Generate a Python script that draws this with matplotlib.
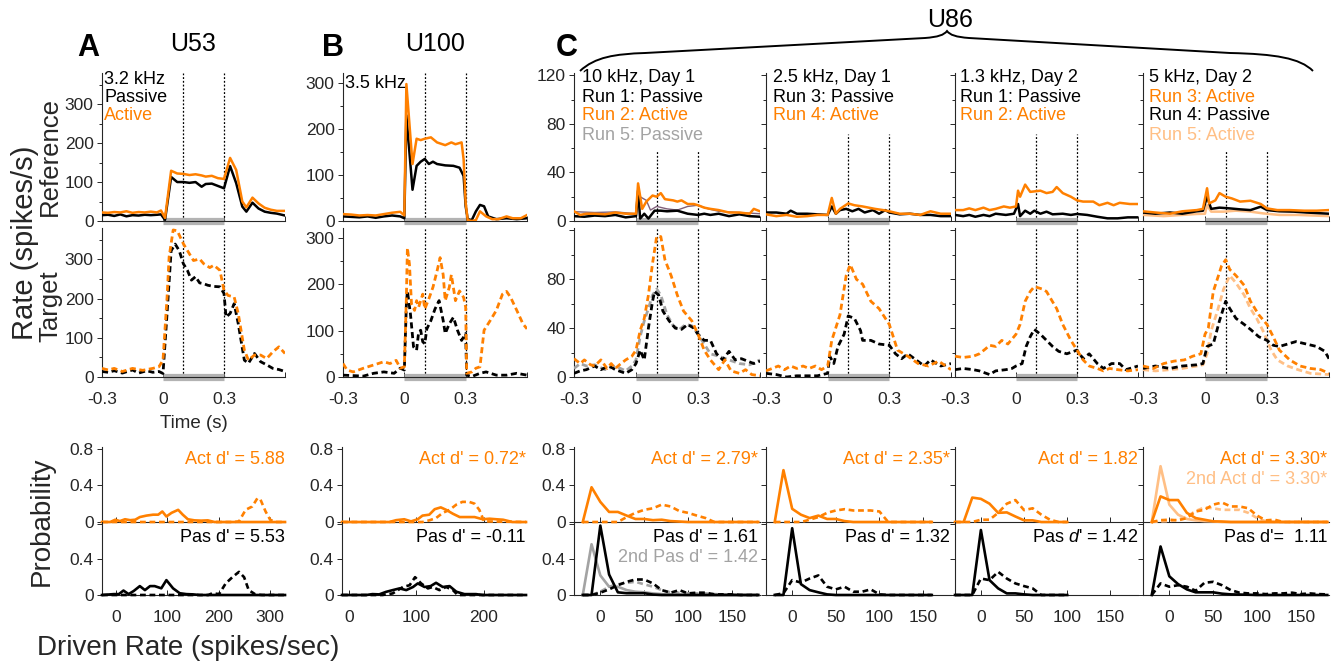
import numpy as np
import matplotlib
matplotlib.use("Agg")
import matplotlib.pyplot as plt
from matplotlib.path import Path
from matplotlib.patches import PathPatch
from matplotlib.ticker import MultipleLocator

plt.rcParams["font.family"] = ["Liberation Sans", "DejaVu Sans"]
plt.rcParams["mathtext.fontset"] = "custom"
plt.rcParams["mathtext.rm"] = "Liberation Sans"
plt.rcParams["mathtext.it"] = "Liberation Sans:italic"

ORANGE = "#ff8000"
LIGHT = "#ffbf85"
GRAY = "#a3a3a3"
MAUVE = "#80607a"
DARK = "#262626"

# ---------------- PSTH data (time in s, rate in spikes/s) ----------------
a_ref_act_t = [-0.3, -0.27, -0.24, -0.21, -0.18, -0.15, -0.12, -0.09, -0.06, -0.03, -0.01, 0.01, 0.04, 0.07, 0.1, 0.13,
               0.16, 0.19, 0.21, 0.24, 0.27, 0.3, 0.33, 0.36, 0.39, 0.41, 0.44, 0.47, 0.5, 0.53, 0.56, 0.6]
a_ref_act = [22, 21, 23, 22, 25, 21, 23, 22, 24, 22, 27, 8, 129, 122, 121, 118, 120, 117, 114, 116, 110, 108, 162,
             131, 50, 35, 60, 45, 34, 29, 26, 26]
a_ref_pas_t = [-0.3, -0.27, -0.24, -0.21, -0.18, -0.15, -0.12, -0.09, -0.06, -0.03, -0.01, 0.01, 0.04, 0.07, 0.1, 0.13,
               0.16, 0.19, 0.21, 0.24, 0.27, 0.3, 0.33, 0.36, 0.39, 0.41, 0.44, 0.47, 0.5, 0.53, 0.56, 0.6]
a_ref_pas = [15, 16, 13, 17, 12, 15, 14, 16, 15, 16, 17, 3, 113, 100, 100, 98, 100, 88, 95, 96, 90, 84, 141, 97, 37,
             24, 47, 32, 24, 21, 19, 14]
a_tar_act_t = [-0.3, -0.27, -0.24, -0.2, -0.15, -0.1, -0.05, -0.02, 0, 0.02, 0.03, 0.05, 0.07, 0.1, 0.13, 0.15, 0.18,
               0.2, 0.23, 0.25, 0.28, 0.3, 0.32, 0.35, 0.37, 0.4, 0.42, 0.45, 0.48, 0.51, 0.54, 0.57, 0.6]
a_tar_act = [22, 18, 22, 14, 22, 17, 22, 26, 43, 204, 306, 375, 373, 340, 314, 297, 301, 289, 279, 285, 272, 221, 208,
             204, 162, 69, 43, 56, 56, 47, 64, 77, 60]
a_tar_pas_t = [-0.3, -0.27, -0.24, -0.2, -0.15, -0.12, -0.08, -0.05, -0.02, 0, 0.02, 0.04, 0.06, 0.08, 0.1, 0.12, 0.14,
               0.16, 0.18, 0.2, 0.22, 0.25, 0.28, 0.3, 0.31, 0.33, 0.35, 0.37, 0.4, 0.42, 0.45, 0.48, 0.51, 0.54,
               0.57, 0.6]
a_tar_pas = [14, 12, 16, 10, 18, 10, 16, 12, 14, 9, 162, 322, 339, 322, 289, 272, 247, 256, 240, 238, 234, 231, 230,
             213, 153, 162, 187, 136, 43, 35, 60, 39, 31, 22, 19, 14]

b_ref_act_t = [-0.3, -0.26, -0.22, -0.18, -0.14, -0.1, -0.06, -0.02, 0, 0.01, 0.04, 0.06, 0.08, 0.1, 0.13, 0.16, 0.2,
               0.23, 0.25, 0.28, 0.29, 0.3, 0.31, 0.33, 0.35, 0.37, 0.4, 0.43, 0.46, 0.5, 0.53, 0.57, 0.6]
b_ref_act = [15, 14, 12, 13, 12, 15, 18, 20, 12, 298, 124, 179, 176, 179, 182, 171, 165, 171, 167, 171, 134, 39, 2, 0,
             2, 21, 10, 4, 4, 10, 6, 6, 13]
b_ref_pas_t = [-0.3, -0.26, -0.22, -0.18, -0.14, -0.1, -0.06, -0.02, 0, 0.01, 0.04, 0.06, 0.08, 0.1, 0.12, 0.14, 0.16,
               0.2, 0.24, 0.27, 0.29, 0.3, 0.31, 0.33, 0.35, 0.37, 0.39, 0.41, 0.45, 0.5, 0.55, 0.6]
b_ref_pas = [10, 9, 8, 10, 7, 10, 12, 10, 6, 230, 68, 120, 129, 135, 124, 129, 124, 121, 120, 116, 98, 32, 4, 2, 21,
             35, 32, 10, 4, 6, 4, 6]
b_tar_act_t = [-0.3, -0.28, -0.25, -0.2, -0.15, -0.1, -0.07, -0.04, -0.02, 0, 0.01, 0.015, 0.025, 0.035, 0.05, 0.06,
               0.07, 0.09, 0.1, 0.12, 0.14, 0.16, 0.175, 0.19, 0.2, 0.22, 0.23, 0.25, 0.27, 0.29, 0.3, 0.305, 0.33,
               0.35, 0.37, 0.39, 0.42, 0.45, 0.48, 0.5, 0.52, 0.55, 0.58, 0.6]
b_tar_act = [29, 15, 11, 19, 26, 33, 29, 36, 19, 22, 172, 279, 244, 158, 144, 165, 151, 179, 147, 169, 194, 229, 258,
             221, 165, 194, 221, 165, 186, 172, 151, 8, 11, 19, 22, 101, 122, 144, 179, 185, 172, 144, 115, 104]
b_tar_pas_t = [-0.3, -0.2, -0.15, -0.1, -0.05, -0.02, 0, 0.01, 0.015, 0.03, 0.045, 0.06, 0.07, 0.08, 0.09, 0.1, 0.11,
               0.13, 0.15, 0.17, 0.19, 0.2, 0.22, 0.24, 0.26, 0.28, 0.3, 0.305, 0.33, 0.37, 0.4, 0.45, 0.5, 0.55, 0.6]
b_tar_pas = [4, 2, 8, 11, 8, 19, 15, 158, 186, 136, 65, 58, 97, 101, 76, 72, 104, 122, 147, 165, 122, 94, 115, 129, 101,
             79, 94, 4, 1, 8, 11, 4, 4, 8, 4]

c1_ref_act_t = [-0.3, -0.27, -0.24, -0.2, -0.15, -0.1, -0.05, 0, 0.01, 0.03, 0.05, 0.08, 0.1, 0.12, 0.14, 0.18, 0.2,
                0.22, 0.25, 0.28, 0.3, 0.33, 0.36, 0.4, 0.45, 0.5, 0.55, 0.57, 0.6]
c1_ref_act = [8, 5, 6, 6, 5.5, 7, 6, 6, 31, 10, 16, 21, 20, 23, 18, 17, 16, 17, 14, 14, 13, 11, 10, 9, 7, 7, 6, 10, 8]
c1_ref_pas_t = [-0.3, -0.25, -0.2, -0.15, -0.1, -0.05, 0, 0.01, 0.02, 0.04, 0.06, 0.09, 0.12, 0.15, 0.2, 0.25, 0.3,
                0.33, 0.36, 0.4, 0.45, 0.5, 0.55, 0.6]
c1_ref_pas = [4, 3.5, 4.5, 4, 5, 3, 4, 25, 2, 6, 2, 8.5, 8.5, 8, 8.5, 6, 5, 6, 5, 6, 4, 5.5, 4, 3.5]
c1_ref_pas2_t = [-0.3, -0.2, -0.1, 0, 0.02, 0.05, 0.07, 0.1, 0.15, 0.2, 0.25, 0.3, 0.35, 0.4, 0.5, 0.6]
c1_ref_pas2 = [7.7, 7, 7.5, 6, 20, 17, 9, 12, 10, 9, 12, 13, 10, 8, 7, 6]
c1_tar_act_t = [-0.3, -0.27, -0.25, -0.22, -0.2, -0.17, -0.14, -0.12, -0.1, -0.08, -0.05, -0.02, 0, 0.02, 0.04, 0.06,
                0.08, 0.1, 0.12, 0.14, 0.17, 0.2, 0.23, 0.27, 0.3, 0.33, 0.36, 0.4, 0.43, 0.46, 0.5, 0.53, 0.56, 0.6]
c1_tar_act = [15, 11, 14, 10, 9, 14, 7, 11, 7, 10, 14, 17, 22, 38, 48, 67, 93, 115, 115, 96, 83, 67, 54, 46, 35, 22, 14,
              6, 14, 5, 3, 6, 2, 1]
c1_tar_pas_t = [-0.3, -0.27, -0.24, -0.2, -0.17, -0.13, -0.1, -0.05, -0.02, 0, 0.02, 0.04, 0.06, 0.08, 0.09, 0.11,
                0.13, 0.16, 0.19, 0.22, 0.25, 0.28, 0.3, 0.33, 0.36, 0.39, 0.42, 0.45, 0.48, 0.51, 0.54, 0.57, 0.6]
c1_tar_pas = [3, 5, 6, 9, 6, 9, 6, 3, 6, 11, 22, 14, 40, 62, 70, 67, 54, 46, 40, 39, 43, 40, 35, 30, 30, 19, 14, 21, 14,
              15, 13, 11, 13]
c1_tar_pas2_t = [-0.3, -0.27, -0.24, -0.2, -0.15, -0.1, -0.05, -0.02, 0, 0.02, 0.04, 0.06, 0.08, 0.1, 0.12, 0.15, 0.18,
                 0.21, 0.24, 0.27, 0.3, 0.33, 0.36, 0.4, 0.45, 0.5, 0.55, 0.6]
c1_tar_pas2 = [7, 11, 9, 10, 6, 9, 5, 9, 14, 33, 46, 56, 67, 72, 67, 51, 42, 39, 43, 42, 35, 27, 19, 17, 14, 11, 10, 14]

c2_ref_act_t = [-0.3, -0.25, -0.2, -0.15, -0.1, -0.05, 0, 0.02, 0.04, 0.06, 0.1, 0.13, 0.17, 0.2, 0.23, 0.27, 0.3,
                0.35, 0.4, 0.45, 0.5, 0.55, 0.6]
c2_ref_act = [5.5, 4, 5, 3.5, 4, 5, 5, 19, 6, 10, 14.5, 13, 12, 11, 10, 9, 8, 6, 6, 5, 8, 6, 6]
c2_ref_pas_t = [-0.3, -0.25, -0.2, -0.18, -0.15, -0.1, -0.05, 0, 0.02, 0.04, 0.06, 0.09, 0.12, 0.15, 0.18, 0.22, 0.25,
                0.28, 0.3, 0.35, 0.4, 0.45, 0.5, 0.55, 0.6]
c2_ref_pas = [7, 7, 6, 8.5, 6, 6, 5.5, 5, 12, 6, 9, 10, 8, 10, 7, 9, 6, 9, 7, 5.5, 6, 5, 5, 4, 4]
c2_tar_act_t = [-0.3, -0.27, -0.24, -0.21, -0.18, -0.15, -0.12, -0.09, -0.06, -0.03, 0, 0.02, 0.06, 0.09, 0.11, 0.14,
                0.17, 0.21, 0.25, 0.3, 0.34, 0.39, 0.44, 0.49, 0.54, 0.6]
c2_tar_act = [5, 7, 9, 6, 9, 7, 9, 7, 9, 6, 9, 30, 51, 83, 92, 80, 76, 62, 56, 43, 22, 17, 11, 9, 13, 6]
c2_tar_pas_t = [-0.3, -0.25, -0.2, -0.15, -0.1, -0.05, 0, 0.01, 0.03, 0.05, 0.08, 0.1, 0.13, 0.16, 0.17, 0.21, 0.25,
                0.3, 0.33, 0.36, 0.39, 0.43, 0.47, 0.5, 0.55, 0.6]
c2_tar_pas = [3, 2, 0, 1, 1, 1, 3, 17, 11, 25, 35, 50, 48, 38, 30, 30, 27, 26, 19, 15, 19, 14, 9, 14, 9, 11]

c3_ref_act_t = [-0.3, -0.26, -0.23, -0.2, -0.16, -0.13, -0.1, -0.06, -0.03, 0, 0.01, 0.02, 0.045, 0.07, 0.12, 0.15,
                0.18, 0.2, 0.23, 0.27, 0.3, 0.33, 0.38, 0.41, 0.45, 0.48, 0.51, 0.56, 0.6]
c3_ref_act = [9, 9, 10.4, 9, 11, 9, 10, 12, 11, 12, 25, 20, 30, 24, 25, 23, 24, 28, 23, 20, 17, 16, 16, 13, 15, 13, 15,
              14, 14]
c3_ref_pas_t = [-0.3, -0.26, -0.23, -0.2, -0.16, -0.13, -0.1, -0.05, -0.01, 0.01, 0.02, 0.045, 0.07, 0.09, 0.12, 0.15,
                0.18, 0.23, 0.27, 0.3, 0.35, 0.4, 0.45, 0.5, 0.55, 0.6]
c3_ref_pas = [5, 4, 5, 3.5, 5, 4, 6, 5, 6, 14, 4, 8.5, 6, 8.5, 6, 7.7, 5.5, 6, 5, 5.8, 5, 3.5, 2.2, 2.2, 3, 3]
c3_tar_act_t = [-0.3, -0.26, -0.21, -0.18, -0.15, -0.13, -0.1, -0.07, -0.04, -0.01, 0, 0.02, 0.045, 0.07, 0.09, 0.13,
                0.15, 0.2, 0.23, 0.27, 0.3, 0.33, 0.36, 0.4, 0.43, 0.46, 0.5, 0.55, 0.6]
c3_tar_act = [17, 16, 17, 19, 23, 26, 25, 30, 27, 33, 35, 43, 62, 70, 74, 72, 70, 56, 43, 30, 22, 14, 9, 7, 5, 7, 6, 5,
              6]
c3_tar_pas_t = [-0.3, -0.26, -0.21, -0.18, -0.13, -0.1, -0.05, -0.02, 0, 0.03, 0.05, 0.07, 0.09, 0.12, 0.15, 0.18,
                0.21, 0.25, 0.3, 0.33, 0.36, 0.4, 0.43, 0.47, 0.51, 0.54, 0.6]
c3_tar_pas = [6, 7, 6, 5, 2, 5, 6, 7, 9, 11, 25, 33, 39, 35, 30, 25, 21, 19, 22, 15, 19, 11, 7, 11, 11, 6, 9]

c4_ref_act_t = [-0.3, -0.24, -0.17, -0.11, -0.04, -0.01, 0.01, 0.02, 0.05, 0.07, 0.1, 0.13, 0.17, 0.22, 0.27, 0.3,
                0.35, 0.41, 0.48, 0.54, 0.6]
c4_ref_act = [8, 7, 6, 8, 9, 10, 27, 14.5, 17, 23, 20, 18.6, 16, 16.7, 14, 10.4, 9, 9, 8.5, 8.5, 9]
c4_ref_pas_t = [-0.3, -0.24, -0.17, -0.11, -0.04, -0.01, 0.01, 0.03, 0.07, 0.12, 0.17, 0.22, 0.27, 0.3, 0.36, 0.43,
                0.49, 0.6]
c4_ref_pas = [7, 6, 7, 6, 8, 8.5, 20, 10, 11, 10.4, 9.6, 9, 11.8, 9, 8, 7.7, 7, 6]
c4_ref_act2_t = [-0.3, -0.2, -0.11, -0.04, 0, 0.01, 0.03, 0.09, 0.15, 0.22, 0.28, 0.36, 0.45, 0.6]
c4_ref_act2 = [5, 4, 5, 5.8, 6, 13, 7.7, 7.7, 8.5, 7.7, 6.3, 5, 5, 4]
c4_tar_act_t = [-0.3, -0.25, -0.2, -0.15, -0.1, -0.06, -0.02, 0, 0.016, 0.04, 0.065, 0.08, 0.1, 0.12, 0.15, 0.19, 0.22,
                0.26, 0.3, 0.33, 0.36, 0.41, 0.46, 0.51, 0.56, 0.6]
c4_tar_act = [9, 7, 11, 13, 14, 17, 19, 35, 40, 70, 83, 91, 96, 88, 83, 75, 62, 51, 43, 33, 22, 14, 9, 7, 6, 3]
c4_tar_pas_t = [-0.3, -0.24, -0.17, -0.11, -0.04, -0.01, 0.01, 0.04, 0.07, 0.1, 0.12, 0.15, 0.19, 0.22, 0.26, 0.3,
                0.33, 0.36, 0.4, 0.44, 0.49, 0.54, 0.58, 0.6]
c4_tar_pas = [7, 9, 7, 9, 10, 11, 25, 27, 46, 62, 56, 48, 43, 39, 33, 30, 26, 25, 27, 29, 27, 25, 21, 15]
c4_tar_act2_t = [-0.3, -0.24, -0.17, -0.11, -0.04, -0.01, 0.01, 0.03, 0.06, 0.09, 0.12, 0.15, 0.19, 0.22, 0.25, 0.28,
                 0.32, 0.35, 0.4, 0.45, 0.51, 0.6]
c4_tar_act2 = [6, 5, 6, 7, 9, 10, 19, 38, 54, 72, 83, 77, 67, 56, 48, 38, 22, 14, 9, 6, 3, 2]

# ---------------- driven-rate distributions ----------------
a_act_sol_x = [-28, -12, -2, 7, 17, 27, 37, 46, 59, 72, 82, 90, 98, 108, 121, 130, 140, 153, 166, 179, 192, 330]
a_act_sol = [0, 0, 0.025, 0.01, 0.03, 0.02, 0.025, 0.054, 0.07, 0.08, 0.08, 0.115, 0.06, 0.1, 0.133, 0.08, 0.03, 0.018,
             0.015, 0.018, 0, 0]
a_act_dash_x = [-28, 230, 240, 253, 266, 276, 282, 292, 301, 311, 330]
a_act_dash = [0, 0, 0.007, 0.133, 0.17, 0.26, 0.245, 0.115, 0.025, 0, 0]
a_pas_sol_x = [-28, -5, 5, 14, 24, 34, 46, 56, 66, 75, 88, 98, 111, 124, 137, 150, 163, 330]
a_pas_sol = [0, 0.01, 0.01, 0.05, 0.01, 0.045, 0.1, 0.055, 0.1, 0.1, 0.075, 0.167, 0.075, 0.02, 0.01, 0.007, 0, 0]
a_pas_dash_x = [-28, 180, 188, 201, 214, 227, 240, 250, 259, 272, 285, 330]
a_pas_dash = [0, 0, 0.02, 0.01, 0.13, 0.2, 0.26, 0.2, 0.055, 0.007, 0, 0]

b_act_sol_x = [-10, 60, 70, 82, 92, 102, 109, 119, 127, 136, 144, 154, 164, 173, 186, 198, 208, 218, 228, 242, 262]
b_act_sol = [0, 0, 0.02, 0.03, 0.007, 0.03, 0.07, 0.08, 0.14, 0.16, 0.133, 0.09, 0.054, 0.054, 0.054, 0.03, 0.036, 0.03,
             0.025, 0, 0]
b_act_dash_x = [-10, 109, 119, 129, 139, 149, 159, 168, 178, 186, 193, 200, 262]
b_act_dash = [0, 0, 0.018, 0.043, 0.1, 0.133, 0.19, 0.22, 0.22, 0.2, 0.133, 0.007, 0]
b_pas_sol_x = [-10, 26, 35, 45, 55, 65, 75, 85, 95, 102, 112, 121, 129, 139, 149, 159, 171, 188, 198, 262]
b_pas_sol = [0, 0, 0.01, 0.007, 0.035, 0.055, 0.074, 0.055, 0.09, 0.13, 0.09, 0.1, 0.137, 0.09, 0.1, 0.037, 0.01, 0.01,
             0, 0]
b_pas_dash_x = [-10, 50, 65, 80, 90, 98, 107, 117, 124, 134, 144, 154, 161, 262]
b_pas_dash = [0, 0, 0.018, 0.09, 0.11, 0.2, 0.13, 0.074, 0.09, 0.055, 0.09, 0.055, 0, 0]

c1_bins = np.arange(-20, 181, 10)
c1_act_sol = [0, 0.38, 0.22, 0.11, 0.11, 0.07, 0.033, 0.033, 0.02, 0.025, 0.01, 0.005, 0, 0, 0, 0, 0, 0, 0, 0, 0]
c1_act_dash = [0, 0, 0, 0, 0, 0.054, 0.1, 0.133, 0.15, 0.19, 0.17, 0.12, 0.1, 0.07, 0.043, 0, 0, 0, 0, 0, 0]
c1_pas_sol = [0, 0, 0.78, 0.23, 0.03, 0.02, 0.02, 0.02, 0.005, 0, 0, 0, 0, 0, 0, 0, 0, 0, 0, 0, 0]
c1_pas_dash = [0, 0, 0.026, 0.063, 0.11, 0.148, 0.174, 0.174, 0.13, 0.055, 0.026, 0.055, 0.018, 0.026, 0.026, 0.007,
               0.007, 0.007, 0, 0, 0]
c1_pas2_sol = [0, 0.57, 0.22, 0.093, 0.093, 0.055, 0.037, 0.03, 0.018, 0.01, 0.007, 0.005, 0, 0, 0, 0, 0, 0, 0, 0, 0]
c1_pas2_dash = [0, 0, 0.037, 0.093, 0.12, 0.137, 0.148, 0.12, 0.093, 0.055, 0.03, 0.025, 0.018, 0.018, 0.018, 0.01,
                0.007, 0.005, 0, 0, 0]

c2_bins = np.arange(-20, 161, 10)
c2_act_sol = [0, 0.567, 0.144, 0.08, 0.043, 0.07, 0.033, 0.033, 0.01, 0, 0, 0, 0, 0, 0, 0, 0, 0, 0]
c2_act_dash = [0, 0, 0, 0, 0.025, 0.054, 0.1, 0.126, 0.14, 0.126, 0.126, 0.126, 0.115, 0, 0, 0, 0, 0, 0]
c2_pas_sol = [0, 0, 0.75, 0.122, 0.055, 0.03, 0.007, 0, 0, 0, 0, 0, 0, 0, 0, 0, 0, 0, 0]
c2_pas_dash = [0, 0.02, 0.167, 0.14, 0.185, 0.22, 0.093, 0.063, 0.093, 0.037, 0.037, 0.063, 0.007, 0, 0, 0, 0, 0, 0]

c3_bins = np.arange(-30, 101, 10)
c3_act_sol = [0, 0, 0.267, 0.253, 0.2, 0.1, 0.105, 0.06, 0.018, 0.018, 0, 0, 0, 0]
c3_act_dash = [0, 0, 0, 0.025, 0.025, 0.1, 0.2, 0.24, 0.13, 0.15, 0.08, 0.025, 0, 0]
c3_pas_sol = [0, 0, 0, 0.73, 0.167, 0.074, 0.018, 0.018, 0.007, 0, 0, 0, 0, 0]
c3_pas_dash = [0, 0, 0, 0.185, 0.167, 0.26, 0.185, 0.13, 0.1, 0.074, 0, 0, 0, 0]

c4_bins = np.arange(-20, 181, 10)
c4_act_sol = [0, 0.28, 0.24, 0.24, 0.1, 0.043, 0.025, 0.007, 0.005, 0, 0, 0, 0, 0, 0, 0, 0, 0, 0, 0, 0]
c4_act2_sol = [0, 0.61, 0.19, 0.08, 0.033, 0.018, 0.01, 0.007, 0, 0, 0, 0, 0, 0, 0, 0, 0, 0, 0, 0, 0]
c4_act_dash = [0, 0.02, 0.025, 0.018, 0.043, 0.115, 0.133, 0.19, 0.213, 0.17, 0.17, 0.15, 0.07, 0.018, 0.025, 0, 0,
               0, 0, 0, 0]
c4_act2_dash = [0, 0.007, 0.01, 0.025, 0.06, 0.12, 0.16, 0.15, 0.133, 0.133, 0.133, 0.1, 0.043, 0.007, 0, 0, 0, 0, 0,
                0, 0]
c4_pas_sol = [0, 0.545, 0.21, 0.122, 0.063, 0.03, 0.03, 0.03, 0.015, 0.007, 0.005, 0.003, 0, 0, 0, 0, 0, 0, 0, 0, 0]
c4_pas_dash = [0, 0.13, 0.093, 0.11, 0.093, 0.048, 0.137, 0.148, 0.11, 0.055, 0.026, 0.018, 0.018, 0.01, 0.018,
               0.018, 0.026, 0.01, 0.018, 0.01, 0.007]

# ---------------- layout ----------------
W, H = 1343, 665
fig = plt.figure(figsize=(W / 100, H / 100), dpi=100)

DASH = (0, (2.2, 1.3))


def add_ax(x0, x1, ytop, ybot):
    ax = fig.add_axes([x0 / W, 1 - ybot / H, (x1 - x0) / W, (ybot - ytop) / H])
    for s in ["top", "right"]:
        ax.spines[s].set_visible(False)
    for s in ["left", "bottom"]:
        ax.spines[s].set_color(DARK)
        ax.spines[s].set_linewidth(0.8)
    ax.tick_params(which="both", colors=DARK, labelsize=12.5, width=0.7)
    ax.tick_params(axis="y", which="both", direction="out", pad=2.5)
    ax.tick_params(axis="x", which="both", direction="in", pad=11)
    ax.tick_params(which="major", length=3.5)
    ax.tick_params(which="minor", length=2.2)
    ax.patch.set_alpha(0)
    return ax


def ftext(x, y, s, **kw):
    kw.setdefault("va", "center")
    fig.text(x / W, 1 - y / H, s, **kw)


cols = [(102, 285), (343, 527), (574, 760), (766, 951), (955, 1138), (1143, 1329)]
pcols = [(102, 285), (342, 526), (574, 760), (766, 951), (955, 1138), (1143, 1329)]

psth = [
    dict(ymax=380, major=100, minor=50, labels=True, vtop=None,
         ref=[(a_ref_pas_t, a_ref_pas, "k"), (a_ref_act_t, a_ref_act, ORANGE)],
         tar=[(a_tar_pas_t, a_tar_pas, "k"), (a_tar_act_t, a_tar_act, ORANGE)]),
    dict(ymax=322, major=100, minor=50, labels=True, vtop=None,
         ref=[(b_ref_pas_t, b_ref_pas, "k"), (b_ref_act_t, b_ref_act, ORANGE)],
         tar=[(b_tar_pas_t, b_tar_pas, "k"), (b_tar_act_t, b_tar_act, ORANGE)]),
    dict(ymax=122, major=40, minor=20, labels=True, vtop=58,
         ref=[(c1_ref_pas2_t, c1_ref_pas2, MAUVE), (c1_ref_pas_t, c1_ref_pas, "k"),
              (c1_ref_act_t, c1_ref_act, ORANGE)],
         tar=[(c1_tar_pas2_t, c1_tar_pas2, GRAY), (c1_tar_pas_t, c1_tar_pas, "k"),
              (c1_tar_act_t, c1_tar_act, ORANGE)]),
    dict(ymax=122, major=40, minor=20, labels=False, vtop=72,
         ref=[(c2_ref_pas_t, c2_ref_pas, "k"), (c2_ref_act_t, c2_ref_act, ORANGE)],
         tar=[(c2_tar_pas_t, c2_tar_pas, "k"), (c2_tar_act_t, c2_tar_act, ORANGE)]),
    dict(ymax=122, major=40, minor=20, labels=False, vtop=72,
         ref=[(c3_ref_pas_t, c3_ref_pas, "k"), (c3_ref_act_t, c3_ref_act, ORANGE)],
         tar=[(c3_tar_pas_t, c3_tar_pas, "k"), (c3_tar_act_t, c3_tar_act, ORANGE)]),
    dict(ymax=122, major=40, minor=20, labels=False, vtop=58,
         ref=[(c4_ref_act2_t, c4_ref_act2, LIGHT), (c4_ref_pas_t, c4_ref_pas, "k"),
              (c4_ref_act_t, c4_ref_act, ORANGE)],
         tar=[(c4_tar_act2_t, c4_tar_act2, LIGHT), (c4_tar_pas_t, c4_tar_pas, "k"),
              (c4_tar_act_t, c4_tar_act, ORANGE)]),
]

for (x0, x1), p in zip(cols, psth):
    for row, (ytop, ybot) in enumerate([(73, 221), (228, 377)]):
        ax = add_ax(x0, x1, ytop, ybot)
        ax.set_xlim(-0.3, 0.6)
        ax.set_ylim(0, p["ymax"])
        ax.set_xticks([-0.3, 0, 0.3, 0.6])
        ax.yaxis.set_major_locator(MultipleLocator(p["major"]))
        ax.yaxis.set_minor_locator(MultipleLocator(p["minor"]))
        if row == 0:
            ax.set_xticklabels([])
            curves = p["ref"]
            vtop = p["vtop"] if p["vtop"] is not None else p["ymax"]
            for t, y, c in curves:
                lw = 1.0 if c == MAUVE else 1.8
                ax.plot(t, y, color=c, lw=lw, zorder=3)
        else:
            ax.set_xticklabels(["-0.3", "0", "0.3", ""])
            vtop = p["ymax"]
            for t, y, c in p["tar"]:
                ax.plot(t, y, color=c, lw=2.0, ls=DASH, zorder=3)
        if p["major"] == 40:
            ax.set_yticks([0, 40, 80, 120])
            if p["labels"]:
                ax.set_yticklabels(["0", "40", "80", "120" if row == 0 else ""])
        if not p["labels"]:
            ax.set_yticklabels([])
        for tv in (0.1, 0.3):
            ax.plot([tv, tv], [0, vtop], color="k", lw=0.9, ls=(0, (1.5, 1.5)), zorder=2, clip_on=False)
        ax.plot([0, 0.3], [0, 0], color="#b3b3b3", lw=5.2, solid_capstyle="butt", zorder=2.5, clip_on=False)

# ---------------- distribution panels ----------------
prob = [
    dict(xlim=(-28, 330), xt=[0, 100, 200, 300], labels=True,
         up=[(a_act_dash_x, a_act_dash, ORANGE, True), (a_act_sol_x, a_act_sol, ORANGE, False)],
         lo=[(a_pas_dash_x, a_pas_dash, "k", True), (a_pas_sol_x, a_pas_sol, "k", False)]),
    dict(xlim=(-10, 262), xt=[0, 100, 200], labels=True,
         up=[(b_act_dash_x, b_act_dash, ORANGE, True), (b_act_sol_x, b_act_sol, ORANGE, False)],
         lo=[(b_pas_dash_x, b_pas_dash, "k", True), (b_pas_sol_x, b_pas_sol, "k", False)]),
    dict(xlim=(-30, 182), xt=[0, 50, 100, 150], labels=True,
         up=[(c1_bins, c1_act_dash, ORANGE, True), (c1_bins, c1_act_sol, ORANGE, False)],
         lo=[(c1_bins, c1_pas2_dash, GRAY, True), (c1_bins, c1_pas2_sol, GRAY, False),
             (c1_bins, c1_pas_dash, "k", True), (c1_bins, c1_pas_sol, "k", False)]),
    dict(xlim=(-30, 182), xt=[0, 50, 100, 150], labels=False,
         up=[(c2_bins, c2_act_dash, ORANGE, True), (c2_bins, c2_act_sol, ORANGE, False)],
         lo=[(c2_bins, c2_pas_dash, "k", True), (c2_bins, c2_pas_sol, "k", False)]),
    dict(xlim=(-30, 182), xt=[0, 50, 100, 150], labels=False,
         up=[(c3_bins, c3_act_dash, ORANGE, True), (c3_bins, c3_act_sol, ORANGE, False)],
         lo=[(c3_bins, c3_pas_dash, "k", True), (c3_bins, c3_pas_sol, "k", False)]),
    dict(xlim=(-30, 182), xt=[0, 50, 100, 150], labels=False,
         up=[(c4_bins, c4_act2_dash, LIGHT, True), (c4_bins, c4_act2_sol, LIGHT, False),
             (c4_bins, c4_act_dash, ORANGE, True), (c4_bins, c4_act_sol, ORANGE, False)],
         lo=[(c4_bins, c4_pas_dash, "k", True), (c4_bins, c4_pas_sol, "k", False)]),
]

for (x0, x1), p in zip(pcols, prob):
    for row, (ytop, ybot) in enumerate([(447, 522), (522, 595)]):
        ax = add_ax(x0, x1, ytop, ybot)
        ax.set_xlim(*p["xlim"])
        ax.set_ylim(0, 0.82)
        ax.set_xticks(p["xt"])
        ax.set_yticks([0, 0.4, 0.8])
        if row == 0:
            ax.set_xticklabels([])
            ax.set_yticklabels(["0", "0.4", "0.8"])
        else:
            ax.set_yticklabels(["0", "0.4", ""])
        if not p["labels"]:
            ax.set_yticklabels([])
        for x, y, c, dashed in (p["up"] if row == 0 else p["lo"]):
            ax.plot(x, y, color=c, lw=1.9, ls=(0, (2.2, 1.4)) if dashed else "-", zorder=3, clip_on=False)

# ---------------- texts ----------------
TS = 13
ftext(104, 79, "3.2 kHz", fontsize=TS)
ftext(104, 98, "Passive", fontsize=TS)
ftext(104, 116, "Active", fontsize=TS, color=ORANGE)
ftext(345, 84, "3.5 kHz", fontsize=TS)

c_notes = [
    (582, [("10 kHz, Day 1", "k"), ("Run 1: Passive", "k"), ("Run 2: Active", ORANGE), ("Run 5: Passive", GRAY)]),
    (773, [("2.5 kHz, Day 1", "k"), ("Run 3: Passive", "k"), ("Run 4: Active", ORANGE)]),
    (960, [("1.3 kHz, Day 2", "k"), ("Run 1: Passive", "k"), ("Run 2: Active", ORANGE)]),
    (1149, [("5 kHz, Day 2", "k"), ("Run 3: Active", ORANGE), ("Run 4: Passive", "k"), ("Run 5: Active", LIGHT)]),
]
for x, lines in c_notes:
    for i, (s, c) in enumerate(lines):
        ftext(x, 78 + 19 * i, s, fontsize=TS, color=c)

d_notes = [
    (285, [(460, "Act d' = 5.88", ORANGE), (537, "Pas d' = 5.53", "k")]),
    (526, [(460, "Act d' = 0.72*", ORANGE), (537, "Pas d' = -0.11", "k")]),
    (758, [(460, "Act d' = 2.79*", ORANGE), (537, "Pas d' = 1.61", "k"), (558, "2nd Pas d' = 1.42", GRAY)]),
    (950, [(460, "Act d' = 2.35*", ORANGE), (537, "Pas d' = 1.32", "k")]),
    (1138, [(460, "Act d' = 1.82", ORANGE), (537, r"Pas $\mathit{d}$' = 1.42", "k")]),
    (1327, [(460, "Act d' = 3.30*", ORANGE), (479, "2nd Act d' = 3.30*", LIGHT), (537, "Pas d'=  1.11", "k")]),
]
for x, lines in d_notes:
    for y, s, c in lines:
        ftext(x, y, s, fontsize=TS, color=c, ha="right")

ftext(88, 48, "A", fontsize=22, fontweight="bold", ha="center")
ftext(193, 44, "U53", fontsize=18, ha="center")
ftext(333, 48, "B", fontsize=22, fontweight="bold", ha="center")
ftext(435, 44, "U100", fontsize=18, ha="center")
ftext(567, 48, "C", fontsize=22, fontweight="bold", ha="center")
ftext(950, 20, "U86", fontsize=18, ha="center")

ftext(25, 243, "Rate (spikes/s)", fontsize=21, rotation=90, ha="center", color=DARK)
ftext(50, 156, "Reference", fontsize=18.5, rotation=90, ha="center", color=DARK)
ftext(50, 306, "Target", fontsize=18.5, rotation=90, ha="center", color=DARK)
ftext(194, 424, "Time (s)", fontsize=13.5, ha="center", color=DARK)
ftext(42, 521, "Probability", fontsize=20, rotation=90, ha="center", color=DARK)
ftext(37, 648, "Driven Rate (spikes/sec)", fontsize=20, ha="left", color=DARK)

# brace over panel C
pts = [(580, 71), (595, 57), (615, 54), (645, 53), (925, 38), (938, 37), (944, 35), (947, 31),
       (950, 35), (956, 37), (969, 38), (1230, 53), (1275, 54), (1300, 58), (1313, 71)]
codes = [Path.MOVETO, Path.CURVE4, Path.CURVE4, Path.CURVE4, Path.LINETO, Path.CURVE4, Path.CURVE4, Path.CURVE4,
         Path.CURVE4, Path.CURVE4, Path.CURVE4, Path.LINETO, Path.CURVE4, Path.CURVE4, Path.CURVE4]
verts = [(x / W, 1 - y / H) for x, y in pts]
fig.patches.append(PathPatch(Path(verts, codes), transform=fig.transFigure, fill=False, lw=1.4, color="k"))

fig.savefig("out.png", dpi=100)
